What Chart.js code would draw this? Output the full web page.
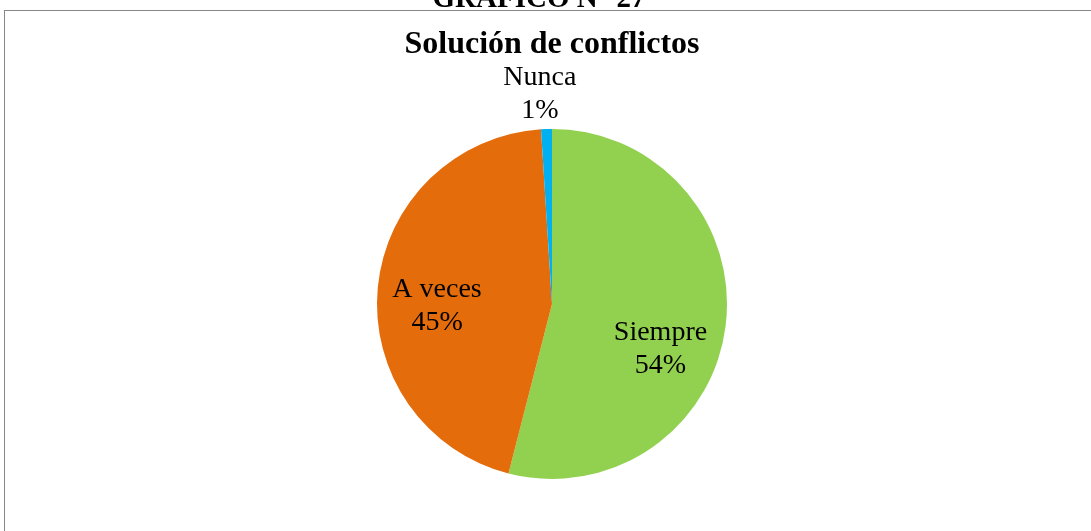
<!DOCTYPE html>
<html>
<head>
<meta charset="utf-8">
<script src="https://cdn.jsdelivr.net/npm/chart.js@4"></script>
<style>
  body { margin: 0; background: #fff; }
  #wrap { position: relative; width: 1091px; height: 531px; overflow: hidden; }
  #frame { position: absolute; left: 4px; top: 10px; width: 1200px; height: 600px; border: 1px solid #878787; }
  #chart { position: absolute; left: 0; top: 0; }
</style>
</head>
<body>
<div id="wrap">
  <div id="frame"></div>
  <canvas id="chart" width="1091" height="531"></canvas>
</div>
<script>
// Data
const categories = ['Siempre', 'A veces', 'Nunca'];
const percents = [54, 45, 1];
const sliceColors = ['#92D050', '#E46C0A', '#00B0F0'];

// Label placement (fraction of radius, angle nudge in degrees)
const labelPlace = [
    { r: 0.671, nudge: 15.3 },
    { r: 0.657, nudge: -6.4 },
    { r: 1.202, nudge: -1.5 }
];

const serif = '"Liberation Serif", "Times New Roman", serif';

// Slice labels + cut-off caption above the frame
const labelPlugin = {
    id: 'sliceLabels',
    afterDatasetsDraw(chart) {
        const ctx = chart.ctx;
        const arcs = chart.getDatasetMeta(0).data;
        ctx.save();
        ctx.fillStyle = '#000';
        ctx.textAlign = 'center';
        ctx.textBaseline = 'middle';
        ctx.font = '28px ' + serif;
        arcs.forEach((arc, i) => {
            const p = labelPlace[i];
            const mid = (arc.startAngle + arc.endAngle) / 2 + p.nudge * Math.PI / 180;
            const x = arc.x + Math.cos(mid) * arc.outerRadius * p.r;
            const y = arc.y + Math.sin(mid) * arc.outerRadius * p.r;
            ctx.fillText(categories[i], x, y - 16.5);
            ctx.fillText(percents[i] + '%', x, y + 16.5);
        });
        ctx.font = 'bold 29px ' + serif;
        ctx.textBaseline = 'alphabetic';
        ctx.fillText('GRAFICO N° 27', 539, 7);
        ctx.restore();
    }
};

new Chart(document.getElementById('chart'), {
    type: 'pie',
    data: {
        labels: categories,
        datasets: [{
            data: percents,
            backgroundColor: sliceColors,
            borderWidth: 0
        }]
    },
    options: {
        responsive: false,
        animation: false,
        layout: { padding: { top: 0, bottom: 52, left: 13, right: 0 } },
        plugins: {
            legend: { display: false },
            tooltip: { enabled: false },
            title: {
                display: true,
                text: 'Solución de conflictos',
                color: '#000',
                font: { family: serif, size: 32, weight: 'bold', lineHeight: 1.2 },
                padding: { top: 26, bottom: 64.6 }
            }
        }
    },
    plugins: [labelPlugin]
});
</script>
</body>
</html>
